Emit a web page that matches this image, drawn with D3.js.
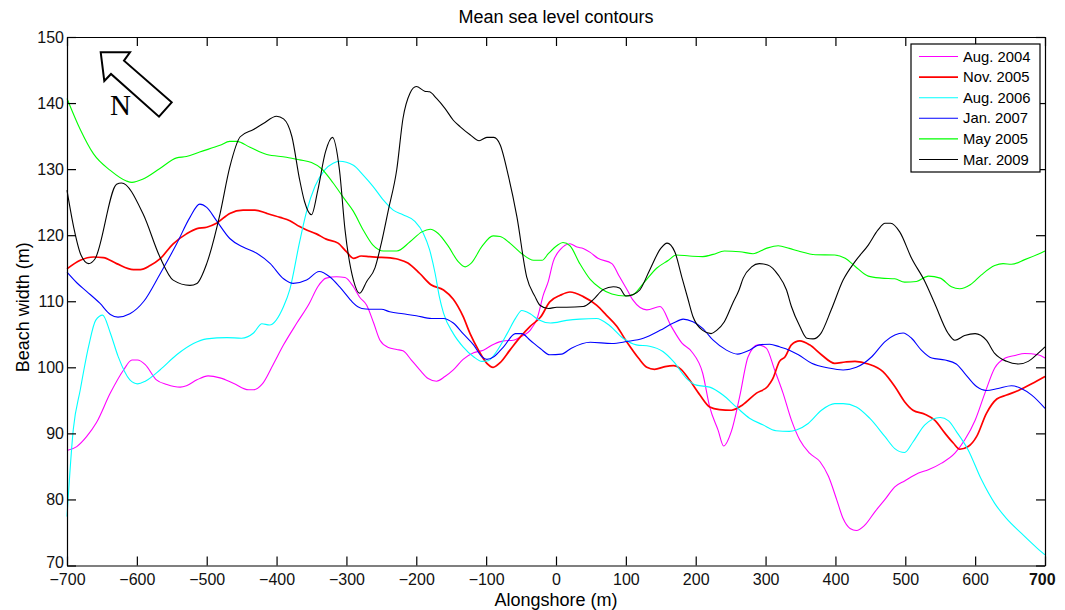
<!DOCTYPE html>
<html>
<head>
<meta charset="utf-8">
<script src="https://cdn.jsdelivr.net/npm/d3@7"></script>
<style>
  body { margin: 0; background: #fff; }
  text { font-family: Arial, "Liberation Sans", sans-serif; }
</style>
</head>
<body>
<div id="myChart"></div>
<script>
// series as [alongshore m, beach width m]
let aug2004 = [[-700,87.4],[-686,88],[-672,89.5],[-658,91.6],[-638,96.1],[-619,99.6],[-607,101.1],[-599,101.1],[-588,100.4],[-572,98.1],[-557,97.4],[-538,97],[-529,97.2],[-514,98.1],[-498,98.7],[-481,98.4],[-462,97.6],[-440,96.6],[-433,96.6],[-421,97.4],[-405,100.4],[-390,103.4],[-371,106.7],[-353,109.7],[-341,112.2],[-329,113.5],[-314,113.7],[-302,113.6],[-290,112.2],[-281,110.6],[-271,109.4],[-261,106.7],[-252,104.1],[-240,103],[-228,102.7],[-219,102.5],[-207,101.1],[-195,99.6],[-183,98.3],[-171,97.9],[-159,98.6],[-147,99.6],[-133,101.2],[-118,102.2],[-104,102.6],[-89,103.5],[-75,104],[-61,104.1],[-49,104.7],[-37,105.6],[-27,107.4],[-18,111],[-11,113],[-4,116],[6,117.8],[20,118.7],[30,118.2],[39,118],[49,117.4],[60,116.5],[80,115.7],[91,113.7],[103,111.5],[110,110.2],[130,108.7],[149,109.2],[165,106.2],[180,103.7],[194,102.4],[210,99.1],[220,94.0],[232,90.5],[240,88.1],[251,90.3],[263,95.6],[275,101.6],[289,103.4],[301,102.9],[313,99.6],[325,96.1],[337,92],[349,89],[363,87],[378,85.7],[390,83.5],[402,79.9],[411,77.1],[421,75.6],[430,75.3],[442,76.1],[457,78.2],[471,80],[485,81.9],[499,82.8],[519,84],[533,84.5],[552,85.5],[571,87],[585,89],[600,92],[614,96.1],[628,99.9],[643,101.4],[657,101.8],[671,102.1],[690,101.9],[700,101.4]];

let nov2005 = [[-700,114.9],[-681,116.2],[-662,116.7],[-648,116.6],[-629,115.7],[-605,114.8],[-595,114.8],[-581,115.4],[-567,116.4],[-548,118.7],[-529,120.2],[-514,121],[-500,121.2],[-486,121.8],[-467,123.3],[-448,123.8],[-431,123.8],[-414,123.3],[-395,122.7],[-381,122.2],[-367,121.3],[-357,120.8],[-343,120.2],[-329,119.4],[-312,118.8],[-300,117.5],[-290,116.5],[-279,116.85],[-267,116.75],[-255,116.65],[-243,116.6],[-226,116.35],[-212,115.8],[-195,114.2],[-179,112.5],[-161,111.7],[-147,110.3],[-133,107.7],[-123,105.1],[-111,102.6],[-99,100.6],[-90,100],[-80,100.7],[-66,102.6],[-51,104.6],[-37,106.2],[-22,107.6],[-9,109.9],[6,110.9],[20,111.4],[39,110.7],[58,109.4],[72,107.9],[87,106.2],[101,103.9],[118,101.4],[130,100],[141,99.7],[156,100.1],[168,100.25],[179,99.7],[191,98.1],[206,95.8],[220,94.0],[234,93.6],[251,93.5],[267,94.3],[287,96.1],[303,97.1],[310,98.2],[320,100.9],[328,101.6],[337,103.4],[349,104],[363,103.4],[380,101.9],[399,100.6],[414,100.8],[428,100.9],[447,100.5],[468,99.35],[485,97.1],[499,94.8],[511,93.5],[528,92.9],[542,92],[557,90],[569,88.5],[578,87.6],[590,88],[602,89.5],[616,93],[631,95.2],[645,95.8],[662,96.5],[681,97.5],[700,98.6]];

let aug2006 = [[-700,77.4],[-691,90.6],[-681,96.6],[-669,103.2],[-659,107.1],[-649,107.9],[-638,105.2],[-627,101.7],[-610,98.1],[-599,97.5],[-588,97.9],[-567,99.6],[-543,101.9],[-519,103.6],[-500,104.3],[-471,104.5],[-450,104.4],[-433,105.2],[-421,106.6],[-410,106.4],[-390,109.2],[-381,111.8],[-367,119],[-357,123.6],[-345,127.4],[-331,129.9],[-319,130.9],[-310,131.2],[-290,130.6],[-276,129.1],[-262,127.4],[-247,125.3],[-233,123.8],[-219,123.1],[-202,122.1],[-190,120.3],[-181,117.8],[-173,114.2],[-167,110.7],[-161,108.2],[-147,105.1],[-133,103.1],[-118,101.6],[-106,100.9],[-97,101],[-85,102.4],[-70,105.1],[-58,107.4],[-49,108.6],[-37,108.1],[-25,107.2],[-8,106.7],[15,107.1],[34,107.3],[58,107.4],[77,106.3],[96,104.4],[115,103.4],[134,103.2],[153,102.4],[168,100.9],[187,98.3],[201,97.3],[220,97],[239,95.8],[258,94.0],[277,92.3],[296,91.3],[315,90.4],[334,90.3],[344,90.5],[361,91.5],[380,93.5],[399,94.5],[411,94.5],[430,94],[449,92.3],[471,89.5],[485,87.7],[499,87.1],[511,88.7],[528,91.3],[550,92.4],[562,91.9],[573,90.3],[590,87.5],[609,83],[628,79.4],[645,77.1],[666,74.9],[686,72.9],[700,71.6]];

let jan2007 = [[-700,114.4],[-686,112.8],[-672,111.5],[-653,109.7],[-638,108],[-627,107.6],[-610,108.1],[-590,110],[-567,114.1],[-543,118.7],[-524,122.7],[-510,124.7],[-500,124.2],[-486,122.2],[-467,119.5],[-448,118.2],[-429,117.3],[-409,115.7],[-390,113.4],[-376,112.7],[-357,113.2],[-339,114.5],[-324,113.7],[-310,112.2],[-295,110.3],[-290,109.7],[-278,108.9],[-267,108.8],[-250,108.8],[-238,108.4],[-219,108.1],[-200,107.8],[-178,107.4],[-161,107.4],[-147,106.7],[-133,105.1],[-118,103.4],[-106,101.6],[-99,101.2],[-89,101.6],[-75,103.1],[-58,105.1],[-49,105.1],[-37,104.1],[-22,102.8],[-9,101.9],[8,102],[22,102.9],[49,103.8],[80,103.6],[101,103.9],[125,104.4],[149,105.6],[168,106.7],[182,107.3],[196,106.9],[210,105.9],[225,104.1],[244,102.6],[260,102],[277,102.6],[291,103.4],[306,103.5],[320,103.1],[334,102.6],[347,101.9],[366,100.6],[390,99.9],[411,99.6],[430,100],[452,101.6],[471,103.9],[485,104.9],[497,105.2],[509,104.4],[523,102.6],[538,101.4],[557,101.1],[573,100.5],[585,99.1],[602,97.1],[616,96.5],[633,96.8],[652,97.2],[666,96.8],[681,95.8],[700,93.8]];

let may2005 = [[-700,140.7],[-681,136],[-662,132.3],[-638,129.8],[-615,128.2],[-607,128],[-591,128.5],[-567,130.1],[-543,131.7],[-529,131.9],[-510,132.6],[-481,133.6],[-467,134.2],[-457,134.2],[-438,133.3],[-414,132.2],[-386,131.8],[-367,131.4],[-350,131],[-336,130.1],[-319,127.9],[-305,125.8],[-290,123.6],[-276,120.8],[-262,118.5],[-247,117.6],[-228,117.6],[-209,119],[-192,120.5],[-180,120.9],[-169,120.3],[-154,118.3],[-140,116],[-130,115.2],[-121,115.8],[-106,118.3],[-90,119.9],[-80,119.8],[-66,118.8],[-49,117.2],[-32,116.2],[-20,116.2],[-11,117.2],[1,118.4],[10,118.9],[20,118.4],[34,115.7],[49,113.3],[63,112],[80,111.1],[99,110.8],[110,111],[125,112.7],[144,115],[161,116.2],[172,117],[191,116.85],[210,116.75],[225,117.1],[241,117.6],[263,117.5],[282,117.2],[301,118],[318,118.4],[334,118],[347,117.6],[371,117.05],[399,117],[414,116.5],[428,115.3],[447,113.8],[466,113.5],[485,113.4],[499,112.9],[516,113],[533,113.8],[550,113.5],[566,112.2],[578,111.9],[593,112.5],[609,114],[628,115.4],[640,115.7],[652,115.6],[671,116.3],[690,117.1],[700,117.6]];

let mar2009 = [[-700,126.8],[-690,121],[-680,117],[-669,115.7],[-660,116.4],[-629,127.7],[-622,127.9],[-591,123.2],[-567,116.7],[-548,113.2],[-524,112.4],[-514,112.7],[-500,115.7],[-481,123.2],[-467,130.3],[-452,134.9],[-433,136],[-419,136.9],[-400,138],[-390,137.6],[-378,134.9],[-367,128.4],[-360,125.1],[-350,123.1],[-341,126.8],[-330,132.6],[-320,134.8],[-310,129.9],[-302,120.8],[-290,113.2],[-281,111.2],[-271,113],[-259,115.1],[-250,118.8],[-240,123.8],[-228,129.9],[-219,137.7],[-209,141.5],[-200,142.5],[-188,141.8],[-181,141.7],[-171,140.7],[-159,139.2],[-147,137.4],[-137,136.4],[-123,135.2],[-110,134.3],[-99,134.8],[-89,134.8],[-80,133.7],[-68,128.9],[-56,122.8],[-42,113.7],[-30,110.7],[-23,109.4],[-11,108.9],[1,109.1],[15,109.1],[39,109.2],[53,110.2],[68,111.8],[82,112.2],[91,112],[100,110.8],[110,111],[120,111.7],[134,114.7],[150,118],[159,118.8],[170,117.5],[180,113.7],[189,110.3],[196,107.7],[210,105.6],[222,105.1],[230,105.6],[241,106.9],[253,109.7],[262,111.7],[268,113.5],[280,115.2],[291,115.7],[303,115.5],[318,114],[330,111.7],[337,109.2],[349,106.2],[359,104.4],[368,104.3],[379,105.1],[394,108.7],[411,113.2],[428,116],[447,118.5],[461,120.8],[471,121.8],[479,121.8],[492,120.5],[509,116.5],[528,113],[542,109.7],[561,105.2],[571,104.1],[585,104.8],[600,105.1],[616,104.1],[628,102.1],[645,100.9],[662,100.5],[676,100.9],[690,102.1],[700,103.1]];

let seriesNames = ["Aug. 2004", "Nov. 2005", "Aug. 2006", "Jan. 2007", "May 2005", "Mar. 2009"];
let seriesData = [aug2004, nov2005, aug2006, jan2007, may2005, mar2009];
let seriesColors = ["#ff00ff", "#ff0000", "#00ffff", "#0000ff", "#00ff00", "#000000"];
let xTicks = [-700, -600, -500, -400, -300, -200, -100, 0, 100, 200, 300, 400, 500, 600, 700];
let yTicks = [70, 80, 90, 100, 110, 120, 130, 140, 150];

let margin = { top: 37, right: 20, bottom: 44.5, left: 67 },
    width = 1065 - margin.left - margin.right,
    height = 610 - margin.top - margin.bottom;

let svg = d3.select("#myChart").append("svg")
  .attr("width", 1065)
  .attr("height", 610)
  .append("g")
  .attr("transform", "translate(" + margin.left + "," + margin.top + ")");

let x = d3.scaleLinear().domain([-700, 700]).range([0, width]);
let y = d3.scaleLinear().domain([70, 150]).range([height, 0]);

// lines
let line = d3.line()
  .x(d => x(d[0]))
  .y(d => y(d[1]))
  .curve(d3.curveMonotoneX);

svg.append("g").selectAll("path")
  .data(seriesData)
  .enter()
  .append("path")
  .attr("fill", "none")
  .attr("stroke", (d, i) => seriesColors[i])
  .attr("stroke-width", (d, i) => i == 1 ? 1.7 : 1.1)
  .attr("d", line);

// box with inward ticks on every side
function styleAxis(g) {
  g.selectAll("path, line").attr("stroke", "#000").attr("stroke-width", 1.2);
  g.selectAll("text").attr("fill", "#111").style("font-size", "16px");
}

svg.append("g")
  .attr("transform", "translate(0," + height + ")")
  .call(d3.axisBottom(x).tickValues(xTicks).tickSizeInner(-9).tickSizeOuter(0).tickPadding(8))
  .call(styleAxis)
  .call(g => g.selectAll(".tick:last-of-type text").attr("font-weight", "bold").attr("dx", "-0.2em"));

svg.append("g")
  .call(d3.axisTop(x).tickValues(xTicks).tickSizeInner(-9).tickSizeOuter(0).tickFormat(""))
  .call(styleAxis);

svg.append("g")
  .call(d3.axisLeft(y).tickValues(yTicks).tickSizeInner(-9).tickSizeOuter(0).tickPadding(3))
  .call(styleAxis)
  .call(g => g.selectAll(".tick:first-of-type text").attr("dy", "0.12em"));

svg.append("g")
  .attr("transform", "translate(" + width + ",0)")
  .call(d3.axisRight(y).tickValues(yTicks).tickSizeInner(-9).tickSizeOuter(0).tickFormat(""))
  .call(styleAxis);

// titles
svg.append("text")
  .attr("x", width / 2).attr("y", -14)
  .attr("text-anchor", "middle")
  .style("font-size", "18px")
  .text("Mean sea level contours");

svg.append("text")
  .attr("x", width / 2).attr("y", height + 40.5)
  .attr("text-anchor", "middle")
  .style("font-size", "18px")
  .text("Alongshore (m)");

svg.append("text")
  .attr("transform", "translate(-38," + (height / 2 + 6) + ") rotate(-90)")
  .attr("text-anchor", "middle")
  .style("font-size", "18px")
  .text("Beach width (m)");

// north arrow
let arrow = [[33.7,15.3],[63,15.3],[57,23.7],[104.7,65.3],[92,79.7],[44,37],[37.3,44]];
svg.append("polygon")
  .attr("points", arrow.map(p => p.join(",")).join(" "))
  .attr("fill", "#fff")
  .attr("stroke", "#000")
  .attr("stroke-width", 2);

svg.append("text")
  .attr("x", 43).attr("y", 78)
  .style("font-family", "'Liberation Serif', 'DejaVu Serif', serif")
  .style("font-size", "29px")
  .text("N");

// legend
let legend = svg.append("g").attr("transform", "translate(" + (911 - margin.left) + "," + (44 - margin.top) + ")");
legend.append("rect")
  .attr("width", 129).attr("height", 128)
  .attr("fill", "#fff").attr("stroke", "#000").attr("stroke-width", 1.2);

let rows = legend.selectAll(".row")
  .data(seriesNames)
  .enter()
  .append("g")
  .attr("transform", (d, i) => "translate(0," + (12.5 + i * 20.6) + ")");

rows.append("line")
  .attr("x1", 8).attr("x2", 47)
  .attr("stroke", (d, i) => seriesColors[i])
  .attr("stroke-width", (d, i) => i == 1 ? 1.7 : 1.1);

rows.append("text")
  .attr("x", 52).attr("dy", "0.35em")
  .style("font-size", "14.8px")
  .text(d => d);
</script>
</body>
</html>
